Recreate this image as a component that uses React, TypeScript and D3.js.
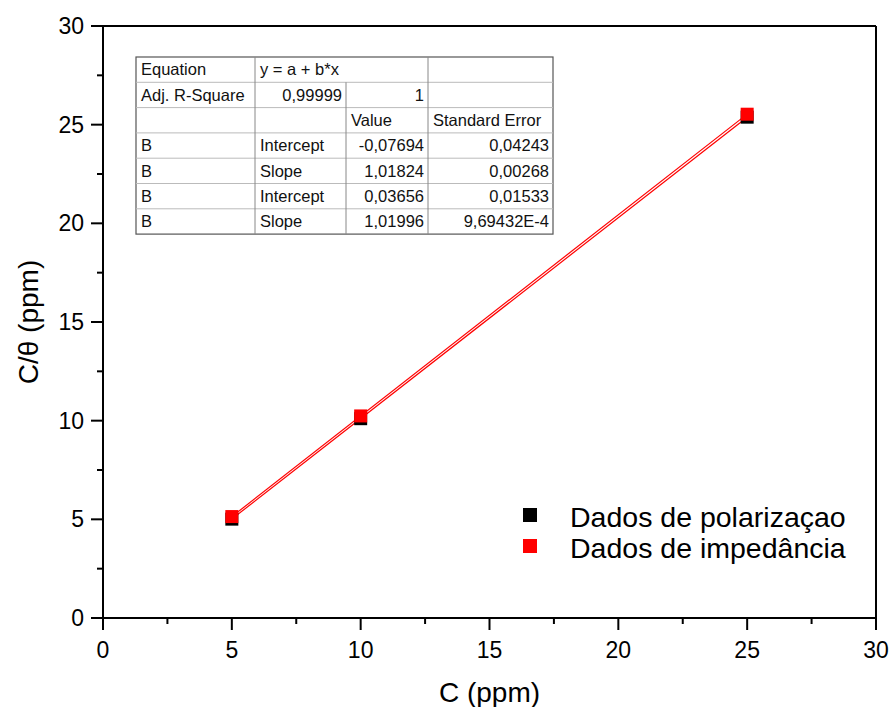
import React from "react";
import * as d3 from "d3";

const concentrations = [5, 10, 25];
const polarizacao = [5.01, 10.1, 25.38];
const impedancia = [5.14, 10.24, 25.53];
const fitPolarizacao = { a: -0.07694, b: 1.01824 };
const fitImpedancia = { a: 0.03656, b: 1.01996 };
const xTicks = [0, 5, 10, 15, 20, 25, 30];
const yTicks = [0, 5, 10, 15, 20, 25, 30];
const minorTicks = [2.5, 7.5, 12.5, 17.5, 22.5, 27.5];
const legendLabels = ["Dados de polarizaçao", "Dados de impedância"];
const tableRows: string[][] = [
  ["Equation", "y = a + b*x", "", ""],
  ["Adj. R-Square", "0,99999", "1", ""],
  ["", "", "Value", "Standard Error"],
  ["B", "Intercept", "-0,07694", "0,04243"],
  ["B", "Slope", "1,01824", "0,00268"],
  ["B", "Intercept", "0,03656", "0,01533"],
  ["B", "Slope", "1,01996", "9,69432E-4"],
];

export default function App() {
  const W = 889, H = 707;
  const L = 103, R = 876, T = 26, B = 618;
  const x = d3.scaleLinear().domain([0, 30]).range([L, R]);
  const y = d3.scaleLinear().domain([0, 30]).range([B, T]);
  const font = "Arial, 'Liberation Sans', sans-serif";
  const fitLine = (f: { a: number; b: number }) =>
    d3.line<number>().x((d) => x(d)).y((d) => y(f.a + f.b * d))([5, 25]) || "";
  const ms = 13;

  // table geometry
  const colX = [136, 255, 346, 428, 553];
  const rowY = d3.range(8).map((i) => 57 + i * 25.3);
  const align = (r: number, c: number) => {
    if (r === 0) return "start";
    if (r === 2) return "start";
    if (c === 0) return "start";
    if (c === 1 && r >= 3) return "start";
    return "end";
  };

  return (
    <svg width={W} height={H} style={{ position: "absolute", left: 0, top: 0, background: "#fff" }} fontFamily={font}>
      <rect x={0} y={0} width={W} height={H} fill="#fff" />
      {/* table */}
      <g fontSize={16.5}>
        <rect x={colX[0]} y={rowY[0]} width={colX[4] - colX[0]} height={rowY[7] - rowY[0]} fill="#fff" stroke="#555" strokeWidth={1.2} />
        {rowY.slice(1, 7).map((ry, i) => (
          <line key={"h" + i} x1={colX[0]} x2={colX[4]} y1={ry} y2={ry} stroke="#bbb" strokeWidth={1} />
        ))}
        {[1, 2, 3].map((c) => (
          <line key={"v" + c} x1={colX[c]} x2={colX[c]} y1={c === 2 ? rowY[1] : rowY[0]} y2={rowY[7]} stroke="#888" strokeWidth={1} />
        ))}
        {tableRows.map((row, r) =>
          row.map((txt, c) => {
            if (!txt) return null;
            const a = align(r, c);
            const tx = a === "start" ? colX[c] + 5 : colX[c + 1] - 4;
            return (
              <text key={r + "-" + c} x={tx} y={(rowY[r] + rowY[r + 1]) / 2} dy="0.35em" textAnchor={a} fill="#111">
                {txt}
              </text>
            );
          })
        )}
      </g>
      {/* fit lines */}
      <path d={fitLine(fitPolarizacao)} stroke="#ff0000" strokeWidth={1.2} fill="none" />
      <path d={fitLine(fitImpedancia)} stroke="#ff0000" strokeWidth={1.2} fill="none" />
      {/* markers */}
      {concentrations.map((c, i) => (
        <rect key={"p" + i} x={x(c) - ms / 2} y={y(polarizacao[i]) - ms / 2} width={ms} height={ms} fill="#000" />
      ))}
      {concentrations.map((c, i) => (
        <rect key={"i" + i} x={x(c) - ms / 2} y={y(impedancia[i]) - ms / 2} width={ms} height={ms} fill="#ff0000" />
      ))}
      {/* axes frame */}
      <line x1={L} x2={R} y1={T} y2={T} stroke="#000" strokeWidth={2} />
      <line x1={R} x2={R} y1={T} y2={B} stroke="#000" strokeWidth={2} />
      <line x1={L} x2={R + 1} y1={B} y2={B} stroke="#000" strokeWidth={2} />
      <line x1={L} x2={L} y1={T - 1} y2={B} stroke="#000" strokeWidth={2} />
      {/* x ticks */}
      {xTicks.map((t) => (
        <g key={"xt" + t}>
          <line x1={x(t)} x2={x(t)} y1={B} y2={B + 12} stroke="#000" strokeWidth={2} />
          <text x={x(t)} y={B + 32} dy="0.35em" textAnchor="middle" fontSize={23} fill="#000">{t}</text>
        </g>
      ))}
      {minorTicks.map((t) => (
        <line key={"xm" + t} x1={x(t)} x2={x(t)} y1={B} y2={B + 6} stroke="#000" strokeWidth={2} />
      ))}
      {/* y ticks */}
      {yTicks.map((t) => (
        <g key={"yt" + t}>
          <line x1={L} x2={L - 12} y1={y(t)} y2={y(t)} stroke="#000" strokeWidth={2} />
          <text x={L - 19} y={y(t)} dy="0.35em" textAnchor="end" fontSize={23} fill="#000">{t}</text>
        </g>
      ))}
      {minorTicks.map((t) => (
        <line key={"ym" + t} x1={L} x2={L - 6} y1={y(t)} y2={y(t)} stroke="#000" strokeWidth={2} />
      ))}
      {/* axis titles */}
      <text x={(L + R) / 2} y={692} dy="0.35em" textAnchor="middle" fontSize={28} fill="#000">C (ppm)</text>
      <text transform={`translate(28,${(T + B) / 2}) rotate(-90)`} dy="0.35em" textAnchor="middle" fontSize={28} fill="#000">C/θ (ppm)</text>
      {/* legend */}
      {legendLabels.map((lab, i) => (
        <g key={"lg" + i}>
          <rect x={523} y={508 + i * 31} width={14} height={14} fill={i === 0 ? "#000" : "#ff0000"} />
          <text x={570} y={527 + i * 31} fontSize={28.5} fill="#000">{lab}</text>
        </g>
      ))}
    </svg>
  );
}
